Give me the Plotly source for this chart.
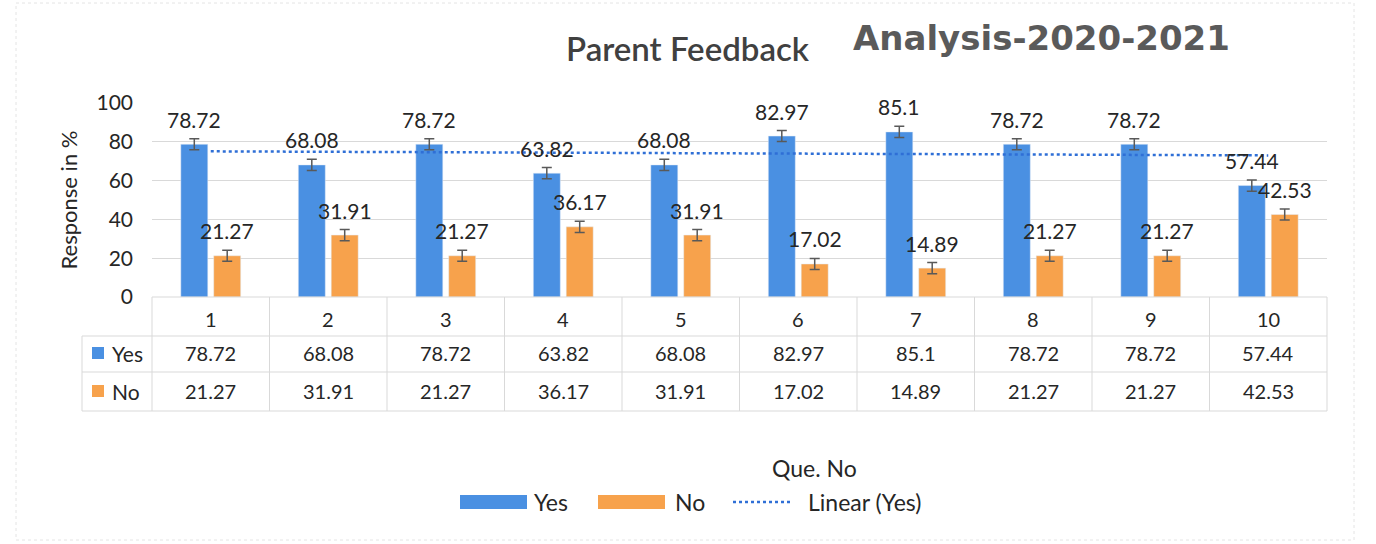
import numpy as np
import plotly.graph_objects as go

# ---------------- data ----------------
questions = ["1", "2", "3", "4", "5", "6", "7", "8", "9", "10"]
yes_vals = [78.72, 68.08, 78.72, 63.82, 68.08, 82.97, 85.1, 78.72, 78.72, 57.44]
no_vals = [21.27, 31.91, 21.27, 36.17, 31.91, 17.02, 14.89, 21.27, 21.27, 42.53]
y_ticks = [0, 20, 40, 60, 80, 100]
series_names = ["Yes", "No"]
title_main = "Parent Feedback"
title_extra = "Analysis-2020-2021"
y_title = "Response in %"
x_title = "Que. No"
trend_name = "Linear (Yes)"

# ---------------- styling / geometry ----------------
W, H = 1376, 544
L, R, T, B = 152, 49, 103, 247
PW, PH = W - L - R, H - T - B
BLUE = "#4A90E2"
ORANGE = "#F7A24C"
TREND = "#2F6FD6"
GRID = "#d9d9d9"
TXT = "#262626"
FONT = "Lato, 'Open Sans', sans-serif"


def px2x(px):
    return (px - L) / PW


def px2y(py):
    return (T + PH - py) / PH


yes_arr = np.array(yes_vals)
no_arr = np.array(no_vals)
n = len(questions)
# Excel-style "standard error" error bars
yes_se = float(np.std(yes_arr, ddof=1) / np.sqrt(n))
no_se = float(np.std(no_arr, ddof=1) / np.sqrt(n))
# linear trendline of Yes
idx = np.arange(1, n + 1)
slope, intercept = np.polyfit(idx, yes_arr, 1)
trend = slope * idx + intercept

fig = go.Figure()
fig.add_trace(go.Bar(
    x=questions, y=yes_vals, name=series_names[0], marker_color=BLUE,
    error_y=dict(type="constant", value=yes_se, color="#595959", thickness=1.5, width=5),
))
fig.add_trace(go.Bar(
    x=questions, y=no_vals, name=series_names[1], marker_color=ORANGE,
    error_y=dict(type="constant", value=no_se, color="#595959", thickness=1.5, width=5),
))
fig.add_trace(go.Scatter(
    x=questions, y=trend, mode="lines", name=trend_name,
    line=dict(color=TREND, width=2.5, dash="dot"),
))

annotations = []
shapes = []


def txt(x, y, text, xref="paper", yref="paper", xanchor="center", size=20, **kw):
    d = dict(x=x, y=y, xref=xref, yref=yref, text=text, showarrow=False,
             xanchor=xanchor, yanchor="middle",
             font=dict(family=FONT, size=size, color=TXT))
    d.update(kw)
    annotations.append(d)


# data labels above bars (offset to clear error bars)
for i, q in enumerate(questions):
    txt(i, yes_vals[i], f"{yes_vals[i]:g}", xref="x", yref="y", size=21, xshift=-16.5, yshift=25)
    txt(i, no_vals[i], f"{no_vals[i]:g}", xref="x", yref="y", size=21, xshift=16.5, yshift=25)

# ---------------- data table ----------------
row_hdr, row_yes, row_no = 319, 353, 391
for i, q in enumerate(questions):
    txt(i, px2y(row_hdr), q, xref="x")
    txt(i, px2y(row_yes), f"{yes_vals[i]:g}", xref="x")
    txt(i, px2y(row_no), f"{no_vals[i]:g}", xref="x")

# row headers with colour keys
for name, col, ry in [(series_names[0], BLUE, row_yes), (series_names[1], ORANGE, row_no)]:
    shapes.append(dict(type="rect", xref="paper", yref="paper",
                       x0=px2x(92), x1=px2x(104), y0=px2y(ry - 6), y1=px2y(ry + 6),
                       fillcolor=col, line=dict(width=0)))
    txt(px2x(110), px2y(ry), name, xanchor="left", size=21)

tbl_line = dict(color=GRID, width=1)
for k in range(n + 1):
    shapes.append(dict(type="line", xref="paper", yref="paper", x0=k / n, x1=k / n,
                       y0=px2y(297), y1=px2y(411), line=tbl_line))
shapes.append(dict(type="line", xref="paper", yref="paper", x0=px2x(82), x1=px2x(82),
                   y0=px2y(336), y1=px2y(411), line=tbl_line))
for yy in [336, 372, 411]:
    shapes.append(dict(type="line", xref="paper", yref="paper", x0=px2x(82), x1=1,
                       y0=px2y(yy), y1=px2y(yy), line=tbl_line))
shapes.append(dict(type="line", xref="paper", yref="paper", x0=0, x1=1,
                   y0=0, y1=0, line=tbl_line))

# ---------------- axis title / legend ----------------
txt(px2x(815), px2y(468), x_title, size=23)

leg_y = 502
leg_items = [("bar", BLUE, series_names[0], 460, 527, 532),
             ("bar", ORANGE, series_names[1], 598, 665, 673),
             ("line", TREND, trend_name, 733, 790, 806)]
for kind, col, label, xa, xb, xt in leg_items:
    if kind == "bar":
        shapes.append(dict(type="rect", xref="paper", yref="paper",
                           x0=px2x(xa), x1=px2x(xb), y0=px2y(leg_y - 7), y1=px2y(leg_y + 7),
                           fillcolor=col, line=dict(width=0)))
    else:
        shapes.append(dict(type="line", xref="paper", yref="paper",
                           x0=px2x(xa), x1=px2x(xb), y0=px2y(leg_y), y1=px2y(leg_y),
                           line=dict(color=col, width=2.5, dash="dot")))
    txt(px2x(xt), px2y(leg_y), label, xanchor="left", size=23)

# ---------------- titles ----------------
annotations.append(dict(x=px2x(688), y=px2y(48), xref="paper", yref="paper", text=title_main,
                        showarrow=False, xanchor="center", yanchor="middle",
                        font=dict(family="Lato, sans-serif", size=33, color="#404040", weight=600)))
annotations.append(dict(x=px2x(1041), y=px2y(38), xref="paper", yref="paper", text=title_extra,
                        showarrow=False, xanchor="center", yanchor="middle",
                        font=dict(family="DejaVu Sans, sans-serif", size=34, color="#5a5a5a",
                                  weight="bold")))

# faint outer border
shapes.append(dict(type="rect", xref="paper", yref="paper",
                   x0=px2x(16), x1=px2x(1354), y0=px2y(540), y1=px2y(3),
                   line=dict(color="#e4e4e4", width=1, dash="dot"), fillcolor="rgba(0,0,0,0)",
                   layer="below"))

fig.update_layout(
    width=W, height=H,
    margin=dict(l=L, r=R, t=T, b=B, autoexpand=False),
    paper_bgcolor="white", plot_bgcolor="white",
    barmode="group", bargap=0.44, bargroupgap=0.18,
    showlegend=False,
    annotations=annotations, shapes=shapes,
    xaxis=dict(type="category", showticklabels=False, showgrid=False, zeroline=False,
               showline=False, ticks=""),
    yaxis=dict(range=[0, 100], tickvals=y_ticks, showgrid=True, gridcolor=GRID, gridwidth=1,
               zeroline=False, showline=False, ticks="", ticklabelstandoff=18,
               tickfont=dict(family=FONT, size=21, color=TXT),
               title=dict(text=y_title, font=dict(family=FONT, size=22, color=TXT), standoff=12)),
)

fig.write_html("out.html", config={"displayModeBar": False},
               post_script="document.body.style.margin='0px';")
